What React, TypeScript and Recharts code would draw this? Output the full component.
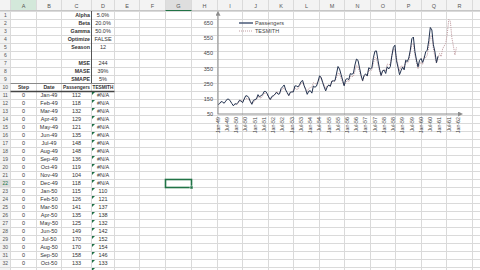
import React from 'react';
import { LineChart, Line, XAxis, YAxis } from 'recharts';

// Monthly airline passengers, Jan-49 .. Dec-60
const passengers = [
  112, 118, 132, 129, 121, 135, 148, 148, 136, 119, 104, 118,
  115, 126, 141, 135, 125, 149, 170, 170, 158, 133, 114, 140,
  145, 150, 178, 163, 172, 178, 199, 199, 184, 162, 146, 166,
  171, 180, 193, 181, 183, 218, 230, 242, 209, 191, 172, 194,
  196, 196, 236, 235, 229, 243, 264, 272, 237, 211, 180, 201,
  204, 188, 235, 227, 234, 264, 302, 293, 259, 229, 203, 229,
  242, 233, 267, 269, 270, 315, 364, 347, 312, 274, 237, 278,
  284, 277, 317, 313, 318, 374, 413, 405, 355, 306, 271, 306,
  315, 301, 356, 348, 355, 422, 465, 467, 404, 347, 305, 336,
  340, 318, 362, 348, 363, 435, 491, 505, 404, 359, 310, 337,
  360, 342, 406, 396, 420, 472, 548, 559, 463, 407, 362, 405,
  417, 391, 419, 461, 472, 535, 622, 606, 508, 461, 390, 432,
];

// TESMITH fit (first season #N/A) and forecast through Dec-61
const tesmith: (number | null)[] = [
  null, null, null, null, null, null, null, null, null, null, null, null,
  110, 121, 137, 138, 132, 142, 152, 154, 146, 133, 118, 128,
  138, 149, 164, 162, 154, 171, 186, 187, 177, 158, 141, 159,
  169, 177, 198, 190, 190, 202, 220, 220, 208, 187, 171, 190,
  197, 206, 223, 213, 214, 237, 252, 258, 236, 216, 199, 219,
  224, 228, 257, 251, 249, 267, 285, 292, 264, 241, 217, 237,
  239, 233, 271, 264, 267, 291, 319, 318, 287, 260, 235, 258,
  271, 263, 299, 297, 299, 333, 372, 363, 330, 297, 266, 298,
  310, 302, 340, 337, 341, 386, 425, 416, 375, 334, 301, 334,
  345, 334, 380, 375, 380, 436, 477, 474, 422, 373, 335, 367,
  368, 351, 396, 387, 397, 461, 509, 515, 438, 391, 348, 377,
  394, 377, 431, 422, 439, 497, 559, 567, 481, 429, 385, 421,
  450, 430, 480, 500, 515, 580, 675, 665, 555, 500, 440, 490,
];

const monthNames = ['Jan', 'Feb', 'Mar', 'Apr', 'May', 'Jun', 'Jul', 'Aug', 'Sep', 'Oct', 'Nov', 'Dec'];

const xTickLabels = [
  'Jan-49', 'Jul-49', 'Jan-50', 'Jul-50', 'Jan-51', 'Jul-51', 'Jan-52', 'Jul-52', 'Jan-53',
  'Jul-53', 'Jan-54', 'Jul-54', 'Jan-55', 'Jul-55', 'Jan-56', 'Jul-56', 'Jan-57', 'Jul-57',
  'Jan-58', 'Jul-58', 'Jan-59', 'Jul-59', 'Jan-60', 'Jul-60', 'Jan-61', 'Jul-61', 'Jan-62',
];
const yTicks = [50, 150, 250, 350, 450, 550, 650];

const paramLabels = ['Alpha', 'Beta', 'Gamma', 'Optimize', 'Season', '', 'MSE', 'MASE', 'SMAPE'];
const paramValues = ['5.0%', '20.0%', '50.0%', 'FALSE', '12', '', '244', '39%', '5%'];
const tableHeaders = ['Step', 'Date', 'Passengers', 'TESMITH'];

const colEdges = [10.5, 36.5, 61.5, 91.5, 114.5, 139.5, 165.5, 191.5, 217.5, 242.5, 268.5, 293.5, 319.5, 344.5, 370.5, 395.5, 421.5, 446.5, 472.5];
const colLetters = 'ABCDEFGHIJKLMNOPQR'.split('');

const FONT = '"Liberation Sans", Arial, sans-serif';
const rowTop = (r: number) => 11 + (r - 1) * 8;
const colMid = (c: number) => (colEdges[c] + colEdges[c + 1]) / 2;
const dateLabel = (i: number) => `${monthNames[i % 12]}-${49 + Math.floor(i / 12)}`;

const PASS_COLOR = '#22324f';
const TES_COLOR = '#c29ea3';

const chartData = tesmith.map((t, i) => ({
  i,
  passengers: i < passengers.length ? passengers[i] : null,
  tesmith: t,
}));

function Sheet() {
  const els: React.ReactNode[] = [];
  // header strips
  els.push(<rect key="hdr" x={0} y={0} width={480} height={11} fill="#f3f3f3" />);
  els.push(<rect key="rhdr" x={0} y={0} width={10.5} height={270} fill="#f3f3f3" />);
  els.push(<rect key="hA" x={colEdges[0]} y={0} width={colEdges[1] - colEdges[0]} height={11} fill="#d3e8da" />);
  els.push(<rect key="hG" x={colEdges[6]} y={0} width={colEdges[7] - colEdges[6]} height={11} fill="#dedede" />);
  els.push(<rect key="r22" x={0} y={rowTop(22)} width={10.5} height={8} fill="#dedede" />);

  // grid lines
  for (let r = 1; r <= 33; r++) {
    els.push(<line key={`h${r}`} x1={0} x2={480} y1={rowTop(r) + 0.5} y2={rowTop(r) + 0.5} stroke="#dadada" />);
  }
  colEdges.forEach((x, k) => {
    els.push(<line key={`v${k}`} x1={x} x2={x} y1={0} y2={270} stroke="#dadada" />);
  });
  els.push(<line key="hb" x1={0} x2={480} y1={10.5} y2={10.5} stroke="#c6c6c6" />);
  els.push(<line key="hGl" x1={colEdges[6]} x2={colEdges[7]} y1={10.5} y2={10.5} stroke="#217346" strokeWidth={1} />);

  // column letters and row numbers
  colLetters.forEach((l, c) => {
    els.push(
      <text key={`cl${c}`} x={colMid(c)} y={8} fontSize={5.5} textAnchor="middle" fill="#555">{l}</text>
    );
  });
  for (let r = 1; r <= 32; r++) {
    els.push(
      <text key={`rn${r}`} x={5.3} y={rowTop(r) + 6.3} fontSize={5} textAnchor="middle" fill={r === 22 ? '#217346' : '#555'}>{r}</text>
    );
  }

  // parameter block
  paramLabels.forEach((l, k) => {
    const y = rowTop(k + 1) + 6.3;
    if (l) els.push(<text key={`pl${k}`} x={90} y={y} fontSize={5.3} fontWeight="bold" textAnchor="end" fill="#333">{l}</text>);
    if (paramValues[k]) els.push(<text key={`pv${k}`} x={colMid(3)} y={y} fontSize={5.5} textAnchor="middle" fill="#333">{paramValues[k]}</text>);
  });
  els.push(<line key="pb" x1={91.5} x2={91.5} y1={rowTop(1)} y2={rowTop(10)} stroke="#555" />);

  // table header row 10
  const hdrLen = [0, 0, 27, 21];
  tableHeaders.forEach((h, c) => {
    els.push(
      <text
        key={`th${c}`}
        x={colMid(c)}
        y={rowTop(10) + 6.3}
        fontSize={5.2}
        fontWeight="bold"
        textAnchor="middle"
        fill="#333"
        {...(hdrLen[c] ? { textLength: hdrLen[c], lengthAdjust: 'spacingAndGlyphs' } : {})}
      >
        {h}
      </text>
    );
  });
  els.push(<line key="t1" x1={10.5} x2={114.5} y1={rowTop(10) + 0.5} y2={rowTop(10) + 0.5} stroke="#8a8a8a" />);
  els.push(<line key="t2" x1={10.5} x2={114.5} y1={rowTop(11) + 0.5} y2={rowTop(11) + 0.5} stroke="#444" strokeWidth={1.5} />);

  // data rows
  for (let r = 11; r <= 32; r++) {
    const i = r - 11;
    const y = rowTop(r) + 6.3;
    const t = tesmith[i];
    els.push(<text key={`a${r}`} x={colMid(0)} y={y} fontSize={5.5} textAnchor="middle" fill="#333">0</text>);
    els.push(<text key={`b${r}`} x={colMid(1)} y={y} fontSize={5.5} textAnchor="middle" fill="#333">{dateLabel(i)}</text>);
    els.push(<text key={`c${r}`} x={colMid(2)} y={y} fontSize={5.5} textAnchor="middle" fill="#333">{passengers[i]}</text>);
    els.push(<text key={`d${r}`} x={colMid(3)} y={y} fontSize={5.5} textAnchor="middle" fill="#333">{t == null ? '#N/A' : t}</text>);
    els.push(<path key={`g${r}`} d={`M92,${rowTop(r) + 1} L95,${rowTop(r) + 1} L92,${rowTop(r) + 4} Z`} fill="#1e7145" />);
  }
  els.push(<path key="g33" d={`M92,${rowTop(33) + 1} L95,${rowTop(33) + 1} L92,${rowTop(33) + 4} Z`} fill="#1e7145" />);

  // active cell G22
  els.push(<rect key="act" x={colEdges[6]} y={rowTop(22) + 0.5} width={colEdges[7] - colEdges[6]} height={8} fill="none" stroke="#217346" strokeWidth={1.6} />);
  els.push(<rect key="actq" x={colEdges[7] - 1.5} y={rowTop(23) - 1} width={3} height={3} fill="#217346" stroke="#fff" strokeWidth={0.5} />);

  return (
    <svg width={480} height={270} style={{ position: 'absolute', left: 0, top: 0 }} fontFamily={FONT}>
      <defs>
        <marker id="axisArrow" viewBox="0 0 6 6" refX="0" refY="3" markerWidth="5" markerHeight="5" orient="auto-start-reverse">
          <path d="M0,0 L6,3 L0,6 z" fill="#8c8c8c" />
        </marker>
      </defs>
      {els}
    </svg>
  );
}

const XTick = (props: any) => {
  const { x, y, payload } = props;
  return (
    <text transform={`translate(${x + 1.8},${y}) rotate(-90)`} textAnchor="end" fontSize={5.3} fill="#444" fontFamily={FONT}>
      {xTickLabels[payload.value / 6]}
    </text>
  );
};

const LegendBox = () => (
  <div style={{ position: 'absolute', left: 239, top: 19, fontFamily: FONT, fontSize: 5.5, color: '#444', lineHeight: '8px' }}>
    <div style={{ display: 'flex', alignItems: 'center' }}>
      <svg width={16} height={8}><line x1={0} x2={14} y1={4} y2={4} stroke="#4a5a78" strokeWidth={1.5} /></svg>
      <span>Passengers</span>
    </div>
    <div style={{ display: 'flex', alignItems: 'center' }}>
      <svg width={16} height={8}><line x1={0} x2={14} y1={4} y2={4} stroke={TES_COLOR} strokeWidth={1} strokeDasharray="1 1" /></svg>
      <span>TESMITH</span>
    </div>
  </div>
);

export default function App() {
  return (
    <div style={{ position: 'absolute', left: 0, top: 0, width: 480, height: 270, overflow: 'hidden', background: '#fff' }}>
      <Sheet />
      <div style={{ position: 'absolute', left: 195, top: 5 }}>
        <LineChart width={285} height={135} data={chartData} margin={{ top: 10.7, right: 22, left: 0, bottom: 0 }}>
          <XAxis
            type="number"
            dataKey="i"
            domain={[0, 156]}
            ticks={xTickLabels.map((_, k) => k * 6)}
            interval={0}
            height={26}
            tickLine={false}
            tickSize={2}
            tickMargin={1}
            tick={<XTick />}
            axisLine={{ stroke: '#8c8c8c', markerEnd: 'url(#axisArrow)' }}
          />
          <YAxis
            domain={[50, 700]}
            ticks={yTicks}
            width={23}
            tickLine={false}
            tickSize={3}
            tickMargin={2}
            tick={{ fontSize: 5.5, fill: '#444', fontFamily: FONT }}
            axisLine={{ stroke: '#8c8c8c', markerStart: 'url(#axisArrow)' }}
          />
          <Line type="linear" dataKey="tesmith" name="TESMITH" stroke={TES_COLOR} strokeWidth={1} strokeDasharray="1.2 1" dot={false} isAnimationActive={false} />
          <Line type="linear" dataKey="passengers" name="Passengers" stroke={PASS_COLOR} strokeWidth={1} dot={false} isAnimationActive={false} />
        </LineChart>
      </div>
      <LegendBox />
    </div>
  );
}
